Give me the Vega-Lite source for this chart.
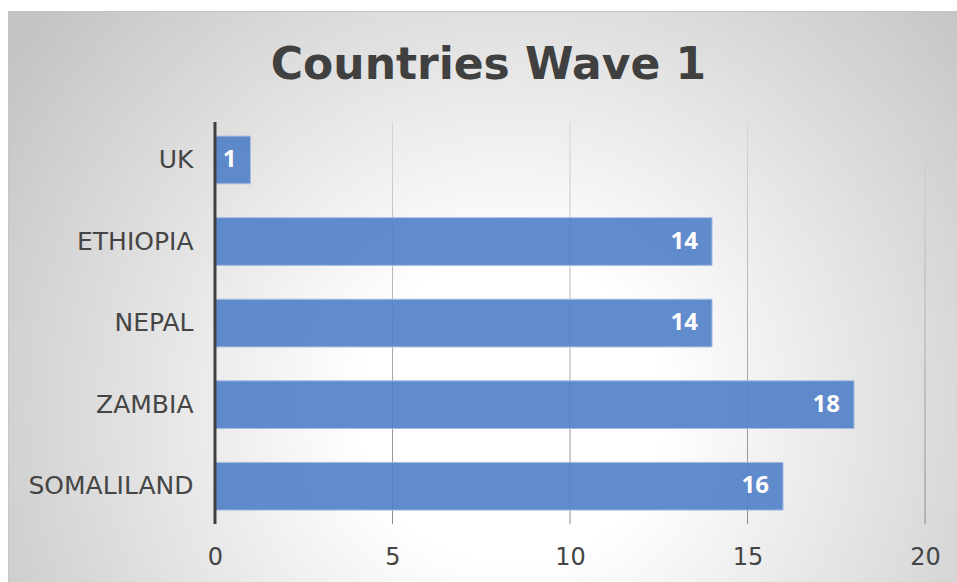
{
  "$schema": "https://vega.github.io/schema/vega-lite/v6.json",
  "width": 949,
  "height": 571,
  "autosize": {"type": "none"},
  "padding": {"left": 8, "top": 11, "right": 0, "bottom": 0},
  "background": "#ffffff",
  "title": {
    "text": "Countries Wave 1",
    "font": "DejaVu Sans",
    "fontSize": 44,
    "fontWeight": "bold",
    "color": "#404040",
    "anchor": "middle",
    "baseline": "alphabetic",
    "offset": -112,
    "dx": 6
  },
  "config": {
    "view": {
      "fill": {
        "gradient": "radial",
        "x1": 0.53, "y1": 0.62, "r1": 0,
        "x2": 0.53, "y2": 0.62, "r2": 0.64,
        "stops": [
          {"offset": 0, "color": "#ffffff"},
          {"offset": 0.25, "color": "#ffffff"},
          {"offset": 1, "color": "#c4c4c4"}
        ]
      },
      "stroke": "#c6c6c6",
      "strokeWidth": 1
    },
    "axisX": {
      "domain": false, "ticks": false, "tickSize": 0, "grid": false,
      "labelFont": "DejaVu Sans", "labelFontSize": 24, "labelColor": "#454545",
      "labelPadding": 0, "labelBaseline": "middle", "offset": -25, "title": null
    },
    "axisY": {
      "domain": false, "ticks": false, "tickSize": 0, "grid": false,
      "labelFont": "DejaVu Sans", "labelFontSize": 25, "labelColor": "#454545",
      "labelPadding": 10, "offset": -195, "title": null
    }
  },
  "data": {
    "values": [
      {"country": "UK", "value": 1},
      {"country": "ETHIOPIA", "value": 14},
      {"country": "NEPAL", "value": 14},
      {"country": "ZAMBIA", "value": 18},
      {"country": "SOMALILAND", "value": 16}
    ]
  },
  "layer": [
    {
      "data": {"values": [{"g": 5}, {"g": 10}, {"g": 15}, {"g": 20}]},
      "mark": {
        "type": "tick", "size": 402, "thickness": 1, "opacity": 1,
        "color": {
          "gradient": "linear", "x1": 0, "y1": 0, "x2": 0, "y2": 1,
          "stops": [{"offset": 0, "color": "#d6d6d6"}, {"offset": 1, "color": "#8a8a8a"}]
        }
      },
      "encoding": {
        "x": {"field": "g", "type": "quantitative", "scale": {"domain": [-5.83, 20.9], "nice": false, "zero": false}, "axis": {"title": null, "values": [0, 5, 10, 15, 20]}},
        "y": {"datum": "NEPAL", "type": "nominal", "axis": {"title": null}}
      }
    },
    {
      "mark": {"type": "bar", "height": {"band": 0.585}, "fill": "#4f7ec8", "fillOpacity": 0.9, "stroke": "#a9bde3", "strokeWidth": 1},
      "encoding": {
        "y": {"field": "country", "type": "nominal", "scale": {"domain": ["UK", "ETHIOPIA", "NEPAL", "ZAMBIA", "SOMALILAND"], "paddingInner": 0, "paddingOuter": 1.051, "align": 0.663}, "axis": {"title": null}},
        "x": {"field": "value", "type": "quantitative", "scale": {"domain": [-5.83, 20.9], "nice": false, "zero": false}, "axis": {"title": null, "values": [0, 5, 10, 15, 20]}}
      }
    },
    {
      "data": {"values": [{"g": 0}]},
      "mark": {"type": "tick", "size": 402, "thickness": 3, "color": "#404040", "opacity": 1},
      "encoding": {
        "x": {"field": "g", "type": "quantitative", "scale": {"domain": [-5.83, 20.9], "nice": false, "zero": false}, "axis": {"title": null, "values": [0, 5, 10, 15, 20]}},
        "y": {"datum": "NEPAL", "type": "nominal", "axis": {"title": null}}
      }
    },
    {
      "mark": {"type": "text", "align": "right", "baseline": "middle", "dx": -14, "font": "Open Sans", "fontSize": 24, "fontWeight": "bold", "color": "#ffffff"},
      "encoding": {
        "y": {"field": "country", "type": "nominal", "axis": {"title": null}},
        "x": {"field": "value", "type": "quantitative", "scale": {"domain": [-5.83, 20.9], "nice": false, "zero": false}, "axis": {"title": null, "values": [0, 5, 10, 15, 20]}},
        "text": {"field": "value", "type": "quantitative"}
      }
    }
  ]
}
